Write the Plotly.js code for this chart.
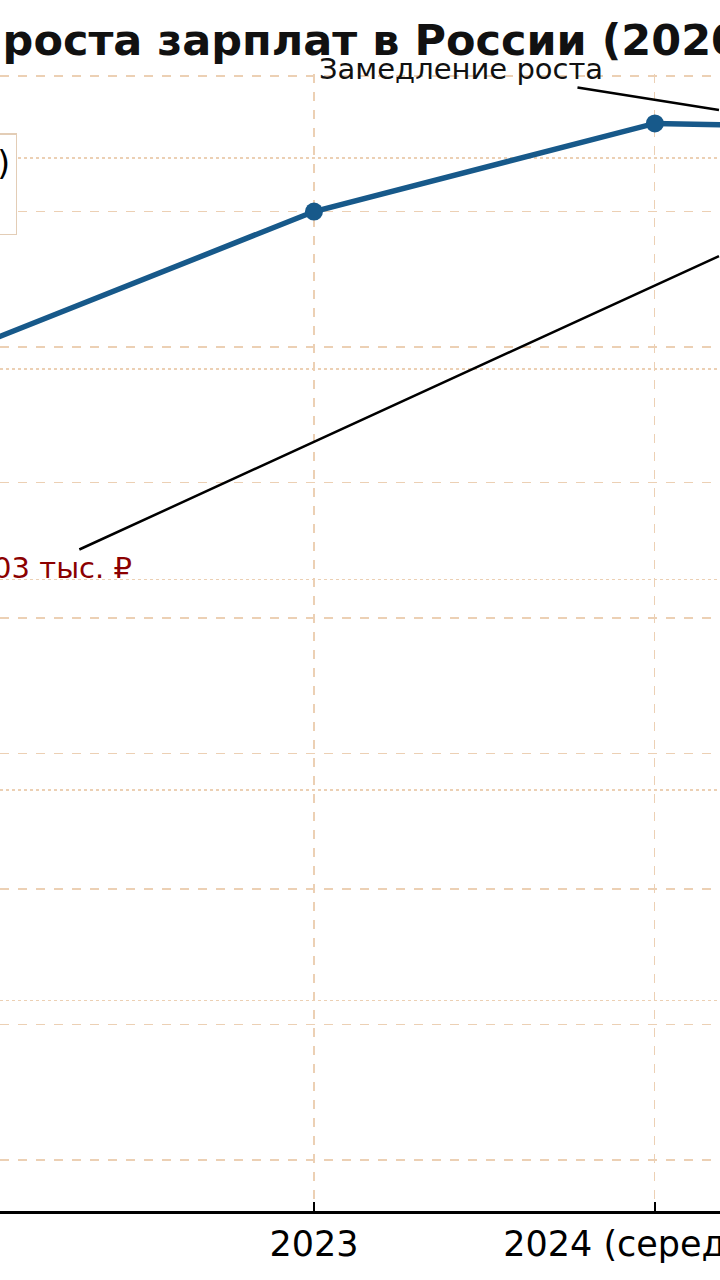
<!DOCTYPE html>
<html>
<head>
<meta charset="utf-8">
<script src="https://cdn.plot.ly/plotly-3.0.1.min.js"></script>
<style>
  html, body { margin: 0; padding: 0; background: #fff; }
  #chart { width: 720px; height: 1280px; }
</style>
</head>
<body>
<div id="chart"></div>
<script>
// data
var years = ['2020', '2021', '2022', '2023', '2024 (середина)', '2025 (прогноз)'];
var salary = [51, 57, 60, 70, 76.5, 76.03];   // тыс. ₽

// texts
var titleText = 'Динамика роста зарплат в России (2020–2025)';
var seriesName = 'Средняя зарплата (тыс. ₽)<br>по данным Росстата';
var slowText = 'Замедление роста';
var lastText = '76.03 тыс. ₽';

var blue = '#17598a';
var gridCol = '#ecd0b4';
var font = 'DejaVu Sans, sans-serif';

var W = 720, H = 1280;
var M = {l: 0, r: 0, t: 74, b: 69};
var xRange = [2.079, 4.191];
var yRange = [-3.76, 80.15];

var line = {
  x: years,
  y: salary,
  name: seriesName,
  type: 'scatter',
  mode: 'lines+markers',
  line: {color: blue, width: 5.5},
  marker: {color: blue, size: 18}
};
// empty trace so the right-hand axis (and its dotted grid) gets drawn
var right = {x: [], y: [], yaxis: 'y2', type: 'scatter', showlegend: false};

// data -> pixel helpers (same ranges as the axes)
var pw = W - M.l - M.r, ph = H - M.t - M.b;
function px(i) { return M.l + (i - xRange[0]) / (xRange[1] - xRange[0]) * pw; }
function py(v) { return M.t + (yRange[1] - v) / (yRange[1] - yRange[0]) * ph; }

// plotly hides/moves arrows whose tip is off the plot, so cut the arrow at the
// right edge, on the straight line from the text to the real target
function edgeArrow(tx, ty, dx, dy, text, color) {
  var sx = tx + dx, sy = ty + dy;
  var s = (W - sx) / (tx - sx);
  var hy = sy + s * (ty - sy);
  return {
    xref: 'paper', yref: 'paper',
    x: 1, y: (M.t + ph - hy) / ph,
    ax: sx - W, ay: sy - hy,
    text: text,
    showarrow: true, arrowhead: 0, arrowwidth: 2.5, arrowcolor: '#000',
    font: {size: 29, family: font, color: color}
  };
}

var last = years.length - 1;
// "slowdown" points at the middle of the last segment, the value label at the last point
var slowX = px(last - 0.5), slowY = py((salary[last] + salary[last - 1]) / 2);
var lastX = px(last), lastY = py(salary[last]);

var layout = {
  width: W,
  height: H,
  margin: {l: M.l, r: M.r, t: M.t, b: M.b, autoexpand: false},
  paper_bgcolor: '#fff',
  plot_bgcolor: '#fff',
  showlegend: true,
  font: {family: font, color: '#000'},
  xaxis: {
    type: 'category',
    categoryorder: 'array',
    categoryarray: years,
    range: xRange,
    showline: true, linecolor: '#000', linewidth: 2.5,
    ticks: 'inside', ticklen: 9, tickwidth: 2, tickcolor: '#000',
    tickangle: 0,
    tickfont: {size: 35, family: font, color: '#000'},
    showgrid: true, gridcolor: gridCol, griddash: 'dash', gridwidth: 1.2,
    zeroline: false, fixedrange: true
  },
  yaxis: {
    range: yRange,
    dtick: 10,
    showticklabels: false,
    showline: false, zeroline: false,
    showgrid: true, gridcolor: gridCol, griddash: 'dash', gridwidth: 1.2
  },
  yaxis2: {
    overlaying: 'y', side: 'right',
    range: [0, 5.4],
    dtick: 1,
    showticklabels: false,
    showline: false, zeroline: false,
    showgrid: true, gridcolor: gridCol, griddash: 'dot', gridwidth: 1.5
  },
  legend: {
    x: 17 / W, xanchor: 'right',
    y: (M.t + ph - 133) / ph, yanchor: 'top',
    bgcolor: '#fff', bordercolor: '#e3cdb6', borderwidth: 1.5,
    font: {size: 33, family: font, color: '#000'}
  },
  annotations: [
    {
      xref: 'paper', yref: 'paper',
      x: -265 / W, y: 1 + 34 / ph,
      xanchor: 'left', yanchor: 'middle',
      text: '<b>' + titleText + '</b>',
      showarrow: false,
      font: {size: 43, family: font, color: '#111'}
    },
    edgeArrow(slowX, slowY, 461 - slowX, 69 - slowY, slowText, '#111'),
    edgeArrow(lastX, lastY, 39 - lastX, 568 - lastY, lastText, '#8b0000')
  ]
};

Plotly.newPlot('chart', [line, right], layout, {staticPlot: true});
</script>
</body>
</html>
